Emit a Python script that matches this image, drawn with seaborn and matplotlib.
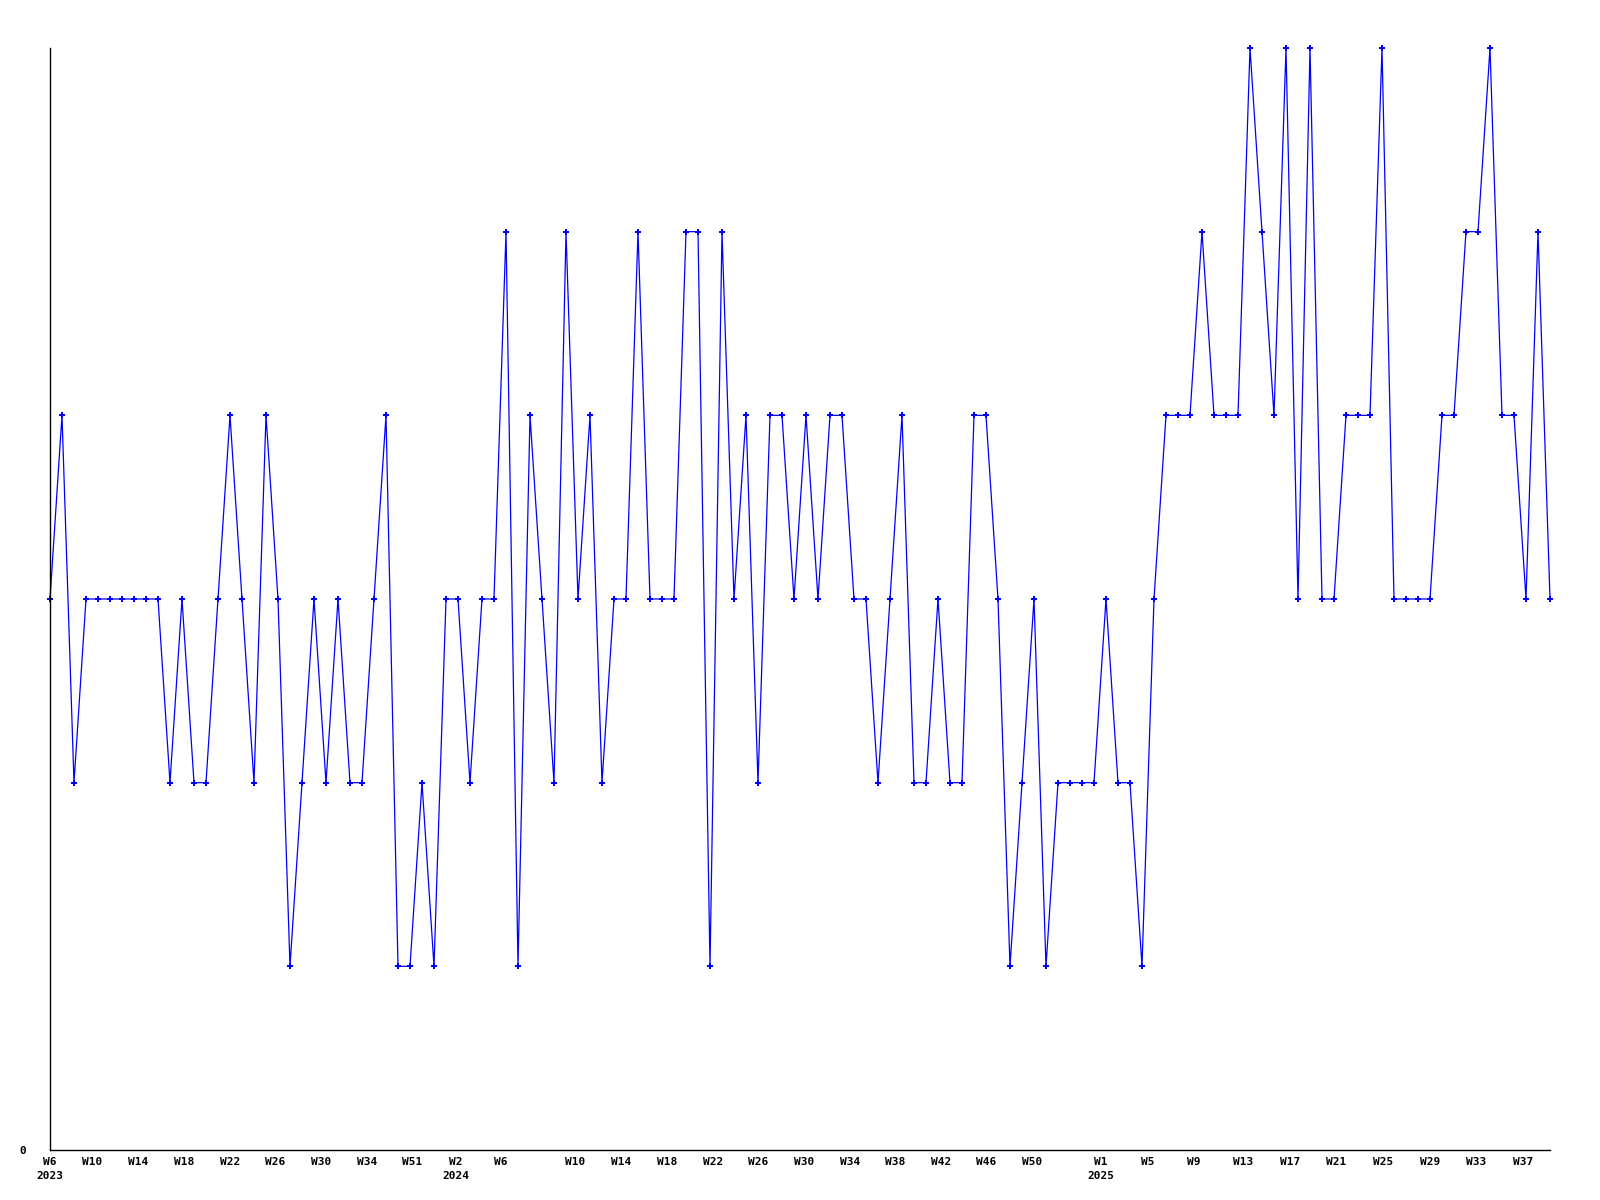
import matplotlib
matplotlib.use("Agg")
import matplotlib.pyplot as plt
import numpy as np
import pandas as pd
import seaborn as sns

# weekly counts, one per point
counts = [
    3, 4, 2, 3, 3, 3, 3, 3, 3, 3,
    2, 3, 2, 2, 3, 4, 3, 2, 4, 3,
    1, 2, 3, 2, 3, 2, 2, 3, 4, 1,
    1, 2, 1, 3, 3, 2, 3, 3, 5, 1,
    4, 3, 2, 5, 3, 4, 2, 3, 3, 5,
    3, 3, 3, 5, 5, 1, 5, 3, 4, 2,
    4, 4, 3, 4, 3, 4, 4, 3, 3, 2,
    3, 4, 2, 2, 3, 2, 2, 4, 4, 3,
    1, 2, 3, 1, 2, 2, 2, 2, 3, 2,
    2, 1, 3, 4, 4, 4, 5, 4, 4, 4,
    6, 5, 4, 6, 3, 6, 3, 3, 4, 4,
    4, 6, 3, 3, 3, 3, 4, 4, 5, 5,
    6, 4, 4, 3, 5, 3,
]

week_labels = [
    "W6\n2023", "W10", "W14", "W18", "W22", "W26", "W30", "W34", "W51",
    "W2\n2024", "W6", "W10", "W14", "W18", "W22", "W26", "W30", "W34",
    "W38", "W42", "W46", "W50",
    "W1\n2025", "W5", "W9", "W13", "W17", "W21", "W25", "W29", "W33", "W37",
]
# where the labels sit along the point index (the source chart spaces them unevenly)
label_pos = [
    0.0, 3.53, 7.37, 11.14, 14.97, 18.78, 22.58, 26.42, 30.2,
    33.83, 37.58, 43.78, 47.62, 51.42, 55.22, 59.03, 62.83, 66.64,
    70.45, 74.22, 78.03, 81.83,
    87.59, 91.45, 95.31, 99.42, 103.31, 107.2, 111.08, 114.98, 118.84, 122.75,
]

df = pd.DataFrame({"idx": np.arange(len(counts)), "count": counts})

sns.set_style("white")
plt.rcParams["font.family"] = ["DejaVu Sans Mono"]

fig = plt.figure(figsize=(16, 12), dpi=100)
ax = fig.add_axes([50 / 1600, 50 / 1200, 1500 / 1600, 1102 / 1200])

sns.lineplot(
    data=df, x="idx", y="count", ax=ax,
    color="#0000ff", linewidth=0.9,
    marker="P", markersize=4.5, markeredgewidth=0,
    clip_on=False,
)

ax.set_xlim(0, len(counts) - 1)
ax.set_ylim(0, 6)
ax.set_xlabel("")
ax.set_ylabel("")

ax.set_xticks(label_pos)
ax.set_xticklabels(week_labels, fontsize=8, fontweight="bold",
                   linespacing=1.45, color="black")
ax.set_yticks([0])
ax.set_yticklabels(["0"], fontsize=8, fontweight="bold", color="black")
ax.tick_params(axis="x", length=0, pad=5)
ax.tick_params(axis="y", length=0, pad=17)

sns.despine(ax=ax)
for side in ["left", "bottom"]:
    ax.spines[side].set_color("black")
    ax.spines[side].set_linewidth(1.0)

fig.savefig("out.png", dpi=100, facecolor="white")
